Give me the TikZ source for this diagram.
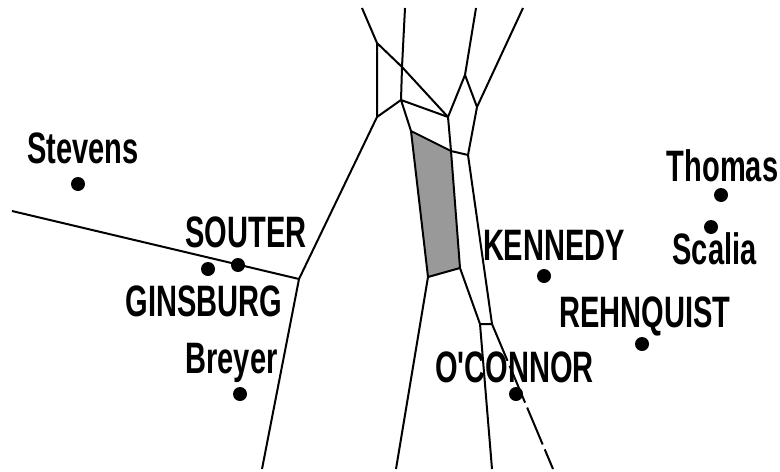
\documentclass[tikz,border=0pt]{standalone}
\usepackage{fontspec}
\usepackage{tikz}
\newfontfamily\labfont[FakeStretch=0.66]{Liberation Sans Bold}
\usetikzlibrary{positioning,calc}

\begin{document}
\begin{tikzpicture}[x=0.75pt,y=-0.75pt,line width=1.5pt,
  judge/.style={circle,fill=black,inner sep=0pt,minimum size=10.5pt},
  judgelab/.style={font=\labfont\fontsize{33}{34}\selectfont,anchor=base,inner sep=0pt},
  cell/.style={draw=black,line join=round},
  shade/.style={fill=black!40}]
  \useasboundingbox (0,0) rectangle (780,471);
  % vertices of the diagram
  \coordinate (t1) at (362,8);   \coordinate (t2) at (405,8);
  \coordinate (t3) at (476,8);   \coordinate (t4) at (523,8);
  \coordinate (A) at (377,43);   \coordinate (B) at (402,67);
  \coordinate (C) at (465,75);   \coordinate (D) at (477,107);
  \coordinate (E) at (377,117);  \coordinate (F) at (401,100);
  \coordinate (G) at (448,117);  \coordinate (H) at (411,131);
  \coordinate (I) at (451,151);  \coordinate (J) at (468,155);
  \coordinate (K) at (460,268);  \coordinate (L) at (428,277);
  \coordinate (M) at (480,324);  \coordinate (N) at (492,324);
  \coordinate (P) at (299,279);  \coordinate (w) at (12,211);
  \coordinate (b1) at (262,469); \coordinate (b2) at (396,469);
  \coordinate (b3) at (492,469); \coordinate (b4) at (553,469);
  \fill[shade] (H) -- (I) -- (K) -- (L) -- cycle;
  \draw[cell] (t1) -- (A) (t2) -- (B) (t3) -- (C) (t4) -- (D);
  \draw[cell] (A) -- (B) (A) -- (E) (B) -- (F) (B) -- (G) (E) -- (F);
  \draw[cell] (F) -- (G) (F) -- (H) (G) -- (C) (C) -- (D) (G) -- (I);
  \draw[cell] (H) -- (I) (I) -- (J) (D) -- (J) (H) -- (L) (I) -- (K) (K) -- (L);
  \draw[cell] (E) -- (P) (w) -- (P) (P) -- (b1) (L) -- (b2);
  \draw[cell] (K) -- (M) (J) -- (N) (M) -- (N) (M) -- (b3);
  \draw[cell,dash pattern=on 30pt off 4pt] (N) -- (b4);
  % justices
  \node[judge] (stevens) at (78,184) {};
  \node[judge] (ginsburg) at (208,269) {};
  \node[judge] (souter) at (238,265) {};
  \node[judge] (breyer) at (240,394) {};
  \node[judge] (thomas) at (721,195) {};
  \node[judge] (scalia) at (711,227) {};
  \node[judge] (kennedy) at (544,276) {};
  \node[judge] (rehnquist) at (642,344) {};
  \node[judge] (oconnor) at (516,394) {};
  \node[judgelab] (stevenslab) at (83,163) {Stevens};
  \node[judgelab] (souterlab) at (246,247) {SOUTER};
  \node[judgelab] (ginsburglab) at (204,316) {GINSBURG};
  \node[judgelab] (breyerlab) at (231.5,373) {Breyer};
  \node[judgelab] (thomaslab) at (722.5,181) {Thomas};
  \node[judgelab] (scalialab) at (714.5,264) {Scalia};
  \node[judgelab] (kennedylab) at (554,260) {KENNEDY};
  \node[judgelab] (rehnquistlab) at (645,327) {REHNQUIST};
  \node[judgelab] (oconnorlab) at (514.5,382) {O'CONNOR};
\end{tikzpicture}
\end{document}
